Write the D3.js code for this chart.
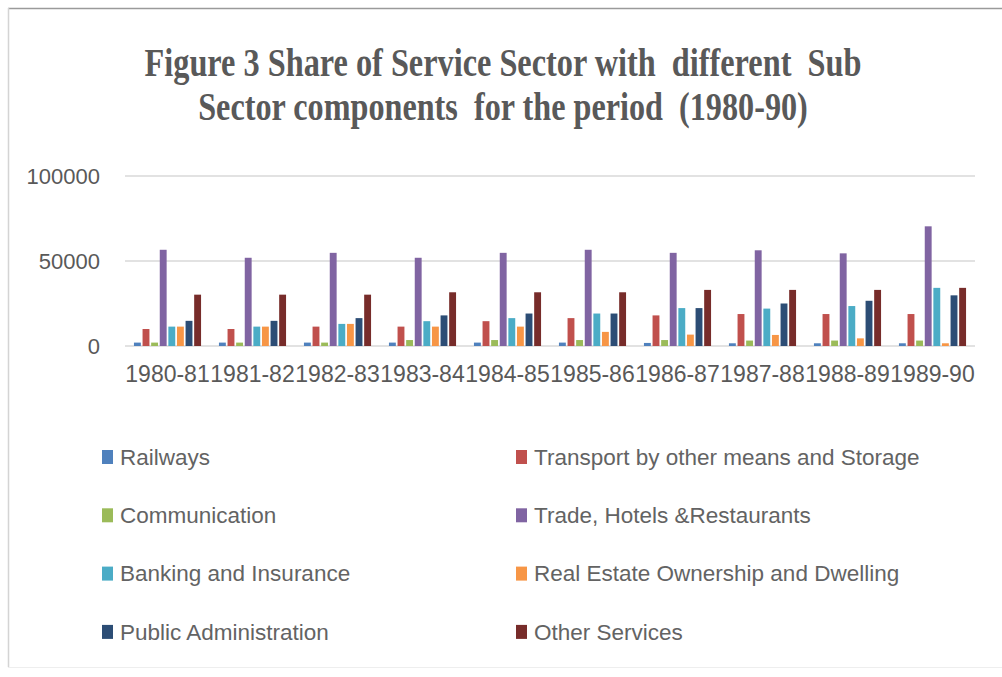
<!DOCTYPE html>
<html>
<head>
<meta charset="utf-8">
<script src="https://cdn.jsdelivr.net/npm/d3@7"></script>
<style>
  body { margin: 0; background: #fff; }
  svg { display: block; }
</style>
</head>
<body>
<div id="chart"></div>
<script>
// periods on the x axis
const periods = ["1980-81", "1981-82", "1982-83", "1983-84", "1984-85",
  "1985-86", "1986-87", "1987-88", "1988-89", "1989-90"];

const seriesNames = ["Railways", "Transport by other means and Storage",
  "Communication", "Trade, Hotels &Restaurants", "Banking and Insurance",
  "Real Estate Ownership and Dwelling", "Public Administration", "Other Services"];

// values, one array per sub sector
const railways      = [2000, 2000, 2000, 2000, 2000, 2000, 1800, 1600, 1600, 1600];
const transport     = [10000, 10000, 11400, 11400, 14600, 16400, 18000, 18800, 18800, 18800];
const communication = [2000, 2000, 2000, 3500, 3500, 3500, 3500, 3200, 3200, 3200];
const trade         = [56600, 51900, 54800, 51900, 54800, 56600, 54800, 56300, 54500, 70400];
const banking       = [11400, 11400, 13000, 14600, 16400, 19100, 22300, 22000, 23500, 34200];
const realEstate    = [11400, 11400, 13000, 11400, 11400, 8300, 6700, 6500, 4500, 1600];
const publicAdmin   = [14800, 14800, 16400, 18000, 19100, 19100, 22300, 25000, 26600, 29800];
const otherServices = [30200, 30200, 30200, 31600, 31600, 31600, 33000, 33000, 33000, 34200];

const yTicks = [0, 50000, 100000];
const colors = ["#4F81BD", "#C0504D", "#9BBB59", "#8064A2", "#4BACC6", "#F79646", "#2C4D75", "#772C2A"];

const seriesValues = [railways, transport, communication, trade, banking, realEstate, publicAdmin, otherServices];

const width = 1002, height = 677;
const margin = { top: 176, right: 27, bottom: 331, left: 125 };
const innerW = width - margin.left - margin.right;
const innerH = height - margin.top - margin.bottom;

const svg = d3.select("#chart").append("svg")
  .attr("width", width)
  .attr("height", height);

// frame of the original screenshot
svg.append("line").attr("x1", 8).attr("x2", width).attr("y1", 8.5).attr("y2", 8.5)
  .attr("stroke", "#9a9a9a").attr("stroke-width", 1.5);
svg.append("line").attr("x1", 8.5).attr("x2", 8.5).attr("y1", 8).attr("y2", 667)
  .attr("stroke", "#d4d4d4").attr("stroke-width", 1.5);
svg.append("line").attr("x1", 8).attr("x2", width).attr("y1", 667.5).attr("y2", 667.5)
  .attr("stroke", "#eeeeee").attr("stroke-width", 1);

// title: the original is a tall, narrow serif, so shrink the font to the
// wanted width and stretch it back up vertically
const titleLines = ["Figure 3 Share of Service Sector with  different  Sub",
  "Sector components  for the period  (1980-90)"];
const titleWidths = [717, 610];
const baseSize = 40;
svg.selectAll(".title")
  .data(titleLines)
  .enter()
  .append("text")
  .attr("class", "title")
  .attr("text-anchor", "middle")
  .style("font-family", "'Liberation Serif', 'DejaVu Serif', serif")
  .style("font-weight", "bold")
  .style("font-size", baseSize + "px")
  .style("fill", "#595959")
  .style("white-space", "pre")
  .text((d) => d)
  .each(function (d, i) {
    const natural = this.getComputedTextLength();
    const k = titleWidths[i] / natural;
    d3.select(this)
      .style("font-size", baseSize * k + "px")
      .attr("transform", `translate(503, ${76 + i * 44}) scale(1, ${1 / k})`);
  });

const g = svg.append("g")
  .attr("transform", `translate(${margin.left}, ${margin.top})`);

const x0 = d3.scaleBand().domain(periods).range([0, innerW]).paddingInner(0.17).paddingOuter(0.085);
const x1 = d3.scaleBand().domain(d3.range(seriesNames.length)).range([0, x0.bandwidth()]).padding(0.2);
const y = d3.scaleLinear().domain([0, 100000]).range([innerH, 0]);

// gridlines
g.selectAll(".grid")
  .data(yTicks)
  .enter()
  .append("line")
  .attr("x1", 0)
  .attr("x2", innerW)
  .attr("y1", (d) => y(d))
  .attr("y2", (d) => y(d))
  .attr("stroke", "#d9d9d9")
  .attr("stroke-width", 1.5);

// y axis labels
const yAxis = d3.axisLeft(y).tickValues(yTicks).tickSize(0).tickPadding(25).tickFormat(d3.format("d"));
g.append("g")
  .call(yAxis)
  .call((sel) => sel.select(".domain").remove())
  .selectAll("text")
  .style("font-family", "'Liberation Sans', Arial, sans-serif")
  .style("font-size", "22px")
  .style("fill", "#595959");

// bars
const groups = g.selectAll(".period")
  .data(periods)
  .enter()
  .append("g")
  .attr("transform", (d) => `translate(${x0(d)}, 0)`);

groups.selectAll("rect")
  .data((d, i) => seriesValues.map((vals, s) => ({ s: s, value: vals[i] })))
  .enter()
  .append("rect")
  .attr("x", (d) => x1(d.s))
  .attr("y", (d) => y(d.value))
  .attr("width", x1.bandwidth())
  .attr("height", (d) => innerH - y(d.value))
  .attr("fill", (d) => colors[d.s]);

// x axis labels
const xAxis = d3.axisBottom(x0).tickSize(0).tickPadding(20);
g.append("g")
  .attr("transform", `translate(0, ${innerH})`)
  .call(xAxis)
  .call((sel) => sel.select(".domain").remove())
  .selectAll("text")
  .style("font-family", "'Liberation Sans', Arial, sans-serif")
  .style("font-size", "23px")
  .style("fill", "#595959");

// legend, two columns
const legend = svg.selectAll(".legend")
  .data(seriesNames)
  .enter()
  .append("g")
  .attr("class", "legend")
  .attr("transform", (d, i) => `translate(${i % 2 === 0 ? 102 : 516}, ${457 + Math.floor(i / 2) * 58.3})`);

legend.append("rect")
  .attr("x", 0)
  .attr("y", -7)
  .attr("width", 11)
  .attr("height", 14)
  .attr("fill", (d, i) => colors[i]);

legend.append("text")
  .attr("x", 18)
  .attr("y", 0)
  .attr("dy", "0.35em")
  .style("font-family", "'Liberation Sans', Arial, sans-serif")
  .style("font-size", "22.5px")
  .style("fill", "#636363")
  .text((d) => d);
</script>
</body>
</html>
